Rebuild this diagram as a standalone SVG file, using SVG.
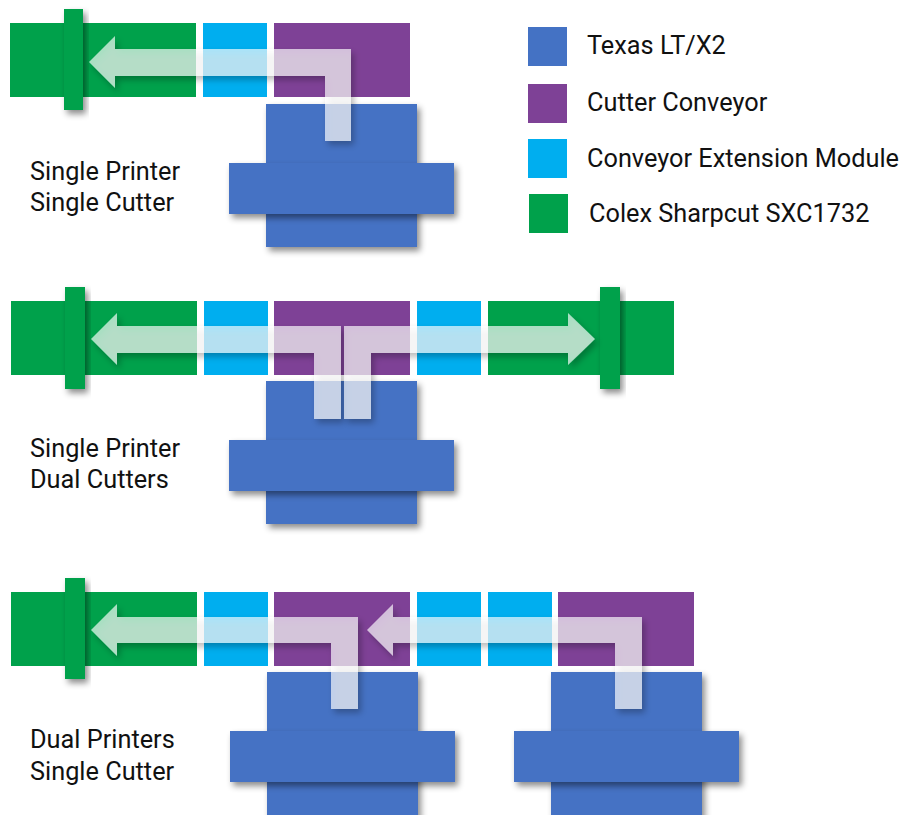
<svg xmlns="http://www.w3.org/2000/svg" width="903" height="815" viewBox="0 0 903 815">
<defs>
<filter id="sh" x="-20%" y="-20%" width="150%" height="160%">
<feDropShadow dx="3" dy="4" stdDeviation="3" flood-color="#000" flood-opacity="0.45"/>
</filter>
<filter id="ash" x="-20%" y="-30%" width="150%" height="180%">
<feDropShadow dx="3" dy="4" stdDeviation="3" flood-color="#000" flood-opacity="0.4"/>
</filter>
</defs>
<style>
.g{fill:#00A14B}
.c{fill:#00AEEF}
.p{fill:#7E4196}
.b{fill:#4472C4}
.sh{filter:url(#sh)}
.ar{fill:#ffffff;fill-opacity:0.66;filter:url(#ash)}
text{font-family:Roboto,"Liberation Sans",sans-serif;font-size:25.3px;fill:#111}
</style>
<rect width="903" height="815" fill="#ffffff"/>

<!-- Row 1 -->
<g id="r1-cutter"><rect class="g" x="10" y="23" width="186" height="74"/><rect class="g sh" x="64" y="9" width="19" height="101"/></g>
<g id="r1-ext"><rect class="c" x="203" y="23" width="64" height="74"/></g>
<g id="r1-conv"><rect class="p" x="274" y="23" width="136" height="74"/></g>
<g id="r1-printer"><rect class="b sh" x="266" y="104" width="151" height="143"/><rect class="b sh" x="229" y="163" width="225" height="51"/></g>
<g id="r1-label"><text x="30" y="180">Single Printer</text><text x="30" y="211">Single Cutter</text></g>

<!-- Row 2 -->
<g id="r2-cutter-left"><rect class="g" x="11" y="301" width="186" height="74"/><rect class="g sh" x="65" y="287" width="20" height="102"/></g>
<g id="r2-ext-left"><rect class="c" x="204" y="301" width="64" height="74"/></g>
<g id="r2-conv"><rect class="p" x="274" y="301" width="136" height="74"/></g>
<g id="r2-ext-right"><rect class="c" x="417" y="301" width="64" height="74"/></g>
<g id="r2-cutter-right"><rect class="g" x="488" y="301" width="186" height="74"/><rect class="g sh" x="600" y="287" width="20" height="102"/></g>
<g id="r2-printer"><rect class="b sh" x="266" y="381" width="151" height="143"/><rect class="b sh" x="229" y="440" width="225" height="51"/></g>
<g id="r2-label"><text x="30" y="457">Single Printer</text><text x="30" y="488">Dual Cutters</text></g>

<!-- Row 3 -->
<g id="r3-cutter"><rect class="g" x="11" y="592" width="186" height="74"/><rect class="g sh" x="65" y="578" width="20" height="101"/></g>
<g id="r3-ext1"><rect class="c" x="204" y="592" width="64" height="74"/></g>
<g id="r3-conv1"><rect class="p" x="274" y="592" width="136" height="74"/></g>
<g id="r3-ext2"><rect class="c" x="417" y="592" width="64" height="74"/></g>
<g id="r3-ext3"><rect class="c" x="488" y="592" width="64" height="74"/></g>
<g id="r3-conv2"><rect class="p" x="558" y="592" width="136" height="74"/></g>
<g id="r3-printer1"><rect class="b sh" x="267" y="672" width="151" height="150"/><rect class="b sh" x="230" y="731" width="225" height="51"/></g>
<g id="r3-printer2"><rect class="b sh" x="551" y="672" width="151" height="150"/><rect class="b sh" x="514" y="731" width="225" height="51"/></g>
<g id="r3-label"><text x="30" y="748">Dual Printers</text><text x="30" y="780">Single Cutter</text></g>

<!-- Legend -->
<g id="legend">
<rect class="b" x="528" y="27" width="39" height="39"/><text x="587" y="54">Texas LT/X2</text>
<rect class="p" x="528" y="84" width="39" height="39"/><text x="587" y="111">Cutter Conveyor</text>
<rect class="c" x="528" y="139" width="39" height="39"/><text x="587" y="167">Conveyor Extension Module</text>
<rect class="g" x="529" y="194" width="39" height="39"/><text x="589" y="222">Colex Sharpcut SXC1732</text>
</g>

<!-- Connectors -->
<g id="connectors">
<path class="ar" d="M89,62 L115,36 L115,49 L351,49 L351,141 L325,141 L325,76 L115,76 L115,88 Z"/>
<path class="ar" d="M91,339 L117,313 L117,326 L341,326 L341,419 L314,419 L314,353 L117,353 L117,365 Z"/>
<path class="ar" d="M595,339 L568,313 L568,326 L344,326 L344,419 L371,419 L371,353 L568,353 L568,365 Z"/>
<path class="ar" d="M91,630 L117,604 L117,617 L358,617 L358,709 L331,709 L331,643 L117,643 L117,656 Z"/>
<path class="ar" d="M367,630 L393,604 L393,617 L642,617 L642,709 L615,709 L615,643 L393,643 L393,656 Z"/>
</g>
</svg>
